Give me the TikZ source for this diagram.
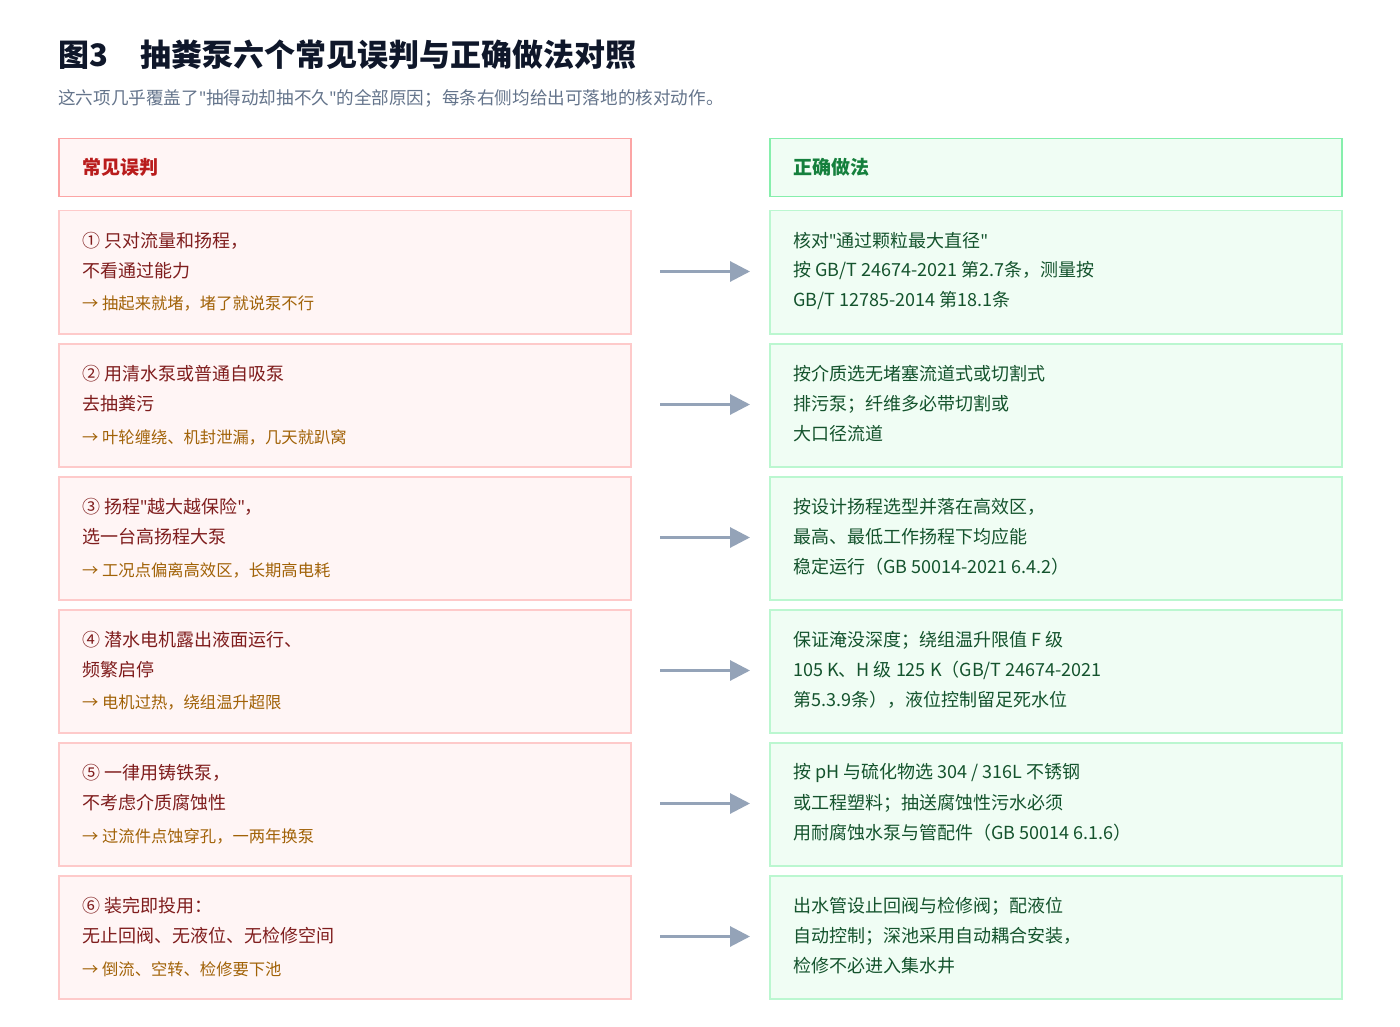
\documentclass[tikz,border=0pt]{standalone}
\usepackage{fontspec}
\setmainfont{Noto Sans CJK SC}
\newfontfamily\qf{Noto Sans}
\newcommand{\q}{{\qf\symbol{34}}}
\usetikzlibrary{arrows.meta}
\definecolor{lbd}{HTML}{FECACA}\definecolor{lhbd}{HTML}{FCA5A5}\definecolor{lfill}{HTML}{FFF5F5}
\definecolor{rbd}{HTML}{BBF7D0}\definecolor{rhbd}{HTML}{86EFAC}\definecolor{rfill}{HTML}{F0FDF4}
\definecolor{lhead}{HTML}{B91C1C}\definecolor{lbody}{HTML}{7F1D1D}\definecolor{lcons}{HTML}{A16207}
\definecolor{rhead}{HTML}{15803D}\definecolor{rbody}{HTML}{14532D}
\definecolor{arr}{HTML}{94A3B8}\definecolor{ttl}{HTML}{0F172A}\definecolor{sub}{HTML}{64748B}
\tikzset{x=1pt,y=-1pt,
 lbox/.style={draw=lbd,fill=lfill,line width=1.5pt,minimum width=572pt,minimum height=123pt,anchor=north west,inner sep=0pt},
 rbox/.style={draw=rbd,fill=rfill,line width=1.5pt,minimum width=572pt,minimum height=123pt,anchor=north west,inner sep=0pt},
 txt/.style={anchor=west,inner sep=0pt,font=\fontsize{18}{20}\selectfont},
 cons/.style={anchor=west,inner sep=0pt,font=\fontsize{16.3}{18}\selectfont,text=lcons},
 con/.style={draw=arr,line width=3pt,-{Triangle[length=20pt,width=20pt]}}}
\begin{document}
\begin{tikzpicture}
\useasboundingbox[fill=white] (0,0) rectangle (1400,1027);
\node[anchor=west,inner sep=0pt,text=ttl,font=\fontsize{31}{34}\selectfont\bfseries] (title) at (58,55) {图3\hspace{32pt}抽粪泵六个常见误判与正确做法对照};
\node[anchor=west,inner sep=0pt,text=sub,font=\fontsize{17.6}{20}\selectfont] (subt) at (58,98) {这六项几乎覆盖了\q 抽得动却抽不久\q 的全部原因；每条右侧均给出可落地的核对动作。};
\node[lbox,draw=lhbd,fill=lfill,minimum height=58pt] (lh) at (58,138) {};
\node[txt,text=lhead,font=\fontsize{19}{20}\selectfont\bfseries] (lht) at (82,167) {常见误判};
\node[rbox,draw=rhbd,minimum height=58pt] (rh) at (769,138) {};
\node[txt,text=rhead,font=\fontsize{19}{20}\selectfont\bfseries] (rht) at (793,167) {正确做法};
\foreach \i/\a/\b/\c/\d/\e/\f in {
0/{① 只对流量和扬程，}/{不看通过能力}/{→ 抽起来就堵，堵了就说泵不行}/{核对\q 通过颗粒最大直径\q}/{按 GB/T 24674-2021 第2.7条，测量按}/{GB/T 12785-2014 第18.1条},
1/{② 用清水泵或普通自吸泵}/{去抽粪污}/{→ 叶轮缠绕、机封泄漏，几天就趴窝}/{按介质选无堵塞流道式或切割式}/{排污泵；纤维多必带切割或}/{大口径流道},
2/{③ 扬程\q 越大越保险\q，}/{选一台高扬程大泵}/{→ 工况点偏离高效区，长期高电耗}/{按设计扬程选型并落在高效区，}/{最高、最低工作扬程下均应能}/{稳定运行（GB 50014-2021 6.4.2）},
3/{④ 潜水电机露出液面运行、}/{频繁启停}/{→ 电机过热，绕组温升超限}/{保证淹没深度；绕组温升限值 F 级}/{105 K、H 级 125 K（GB/T 24674-2021}/{第5.3.9条），液位控制留足死水位},
4/{⑤ 一律用铸铁泵，}/{不考虑介质腐蚀性}/{→ 过流件点蚀穿孔，一两年换泵}/{按 pH 与硫化物选 304 / 316L 不锈钢}/{或工程塑料；抽送腐蚀性污水必须}/{用耐腐蚀水泵与管配件（GB 50014 6.1.6）},
5/{⑥ 装完即投用：}/{无止回阀、无液位、无检修空间}/{→ 倒流、空转、检修要下池}/{出水管设止回阀与检修阀；配液位}/{自动控制；深池采用自动耦合安装，}/{检修不必进入集水井}} {
 \pgfmathsetmacro\y{210+133*\i}
 \node[lbox] (l\i) at (58,\y) {};
 \node[rbox] (r\i) at (769,\y) {};
 \node[txt,text=lbody] (la\i) at (82,\y+31) {\a};
 \node[txt,text=lbody] (lb\i) at (82,\y+61) {\b};
 \node[cons] (lc\i) at (82,\y+94) {\c};
 \node[txt,text=rbody] (ra\i) at (793,\y+31) {\d};
 \node[txt,text=rbody] (rb\i) at (793,\y+61) {\e};
 \node[txt,text=rbody] (rc\i) at (793,\y+91) {\f};
 \coordinate (s\i) at (660,\y+61.5);
 \coordinate (e\i) at (750,\y+61.5);
 \draw[con] (s\i) -- (e\i);
}
\end{tikzpicture}
\end{document}
